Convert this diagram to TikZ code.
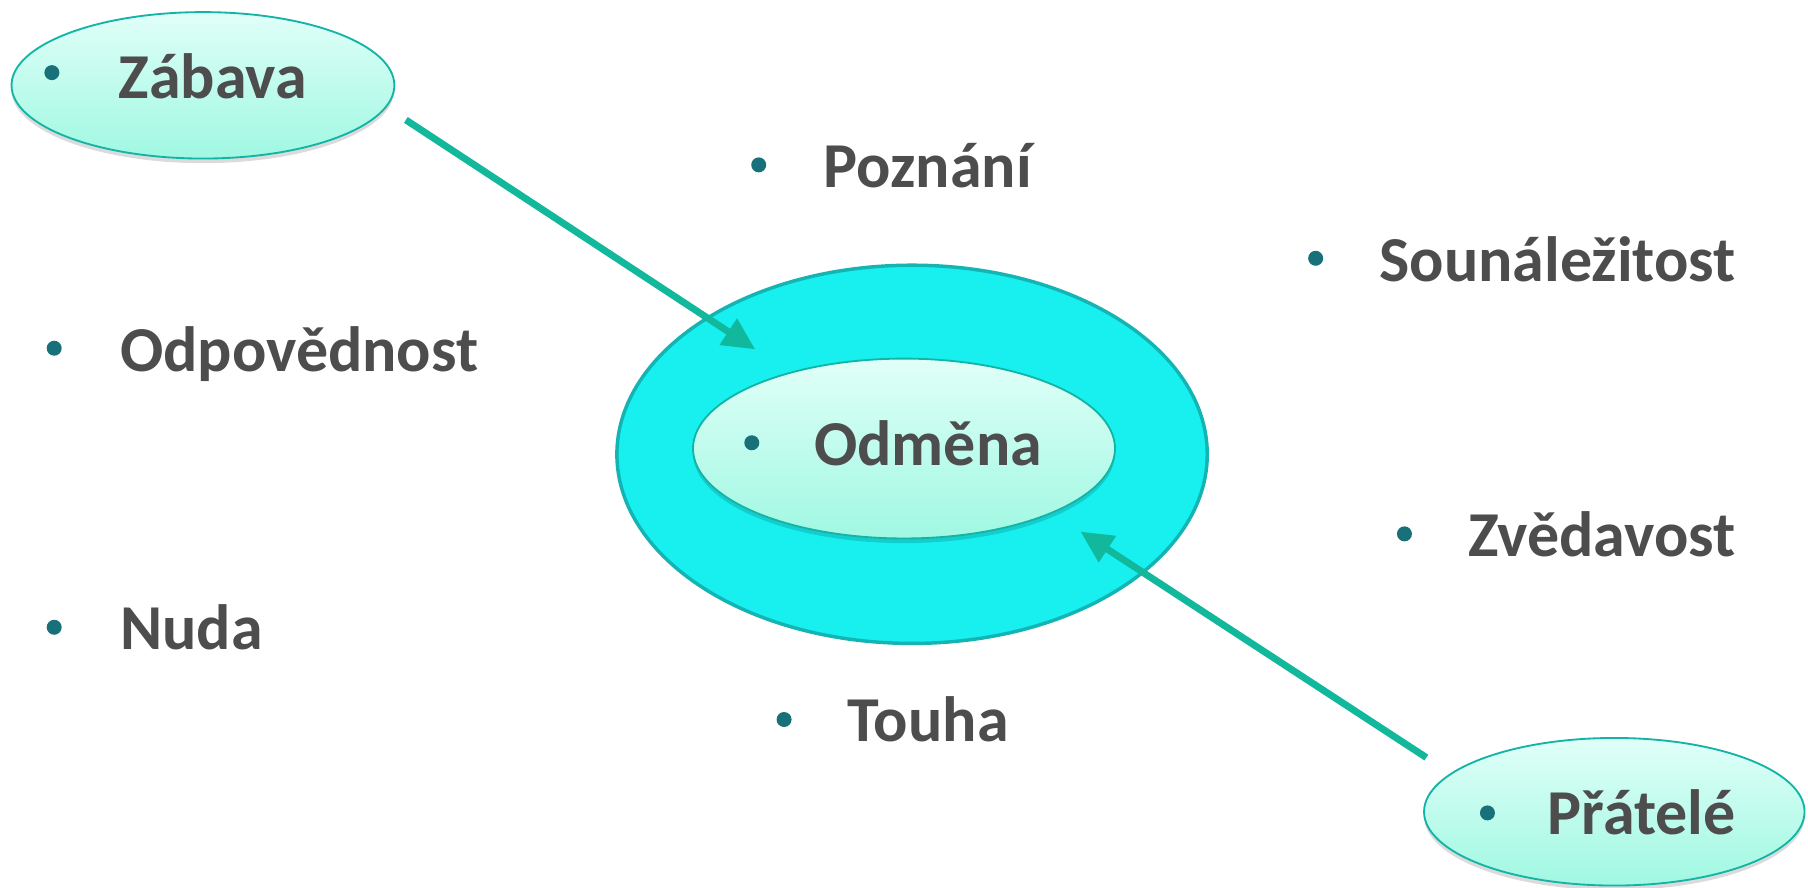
\documentclass[tikz,border=0pt]{standalone}
\usepackage{fontspec}
\setmainfont{Carlito}
\usetikzlibrary{arrows.meta,shadows,shapes.geometric}
\definecolor{txt}{HTML}{4D4D4D}
\definecolor{bul}{HTML}{17707A}
\definecolor{edgec}{HTML}{12B5A5}
\definecolor{arr}{HTML}{12B89C}
\definecolor{cyanf}{HTML}{18F0F0}
\definecolor{cyane}{HTML}{14B4B4}
\definecolor{gtop}{HTML}{E0FFF8}
\definecolor{gbot}{HTML}{A0F8E2}
\begin{document}
\begin{tikzpicture}[x=1pt,y=-1pt,
  bubble/.style={ellipse, draw=edgec, line width=1.6pt, inner sep=0pt,
    top color=gtop, bottom color=gbot,
    drop shadow={shadow xshift=0pt, shadow yshift=-4pt, opacity=0.14, fill=black}},
  outerbub/.style={ellipse, draw=cyane, line width=3pt, fill=cyanf, inner sep=0pt},
  word/.style={anchor=base west, font=\fontsize{55.5}{64}\selectfont\bfseries, text=txt, inner sep=0pt},
  dot/.style={circle, fill=bul, minimum size=13pt, inner sep=0pt},
  conn/.style={draw=arr, line width=6pt, -{Triangle[length=28pt,width=26pt]}}]
\useasboundingbox[fill=white] (0,0) rectangle (1568,770);
% ellipses
\node[outerbub, minimum width=512pt, minimum height=328pt] (outer) at (791,394) {};
\node[bubble, minimum width=366pt, minimum height=156pt] (inner) at (784,389) {};
\node[bubble, minimum width=332pt, minimum height=127pt] (zab) at (176,74) {};
\node[bubble, minimum width=330pt, minimum height=128pt] (prat) at (1400,704) {};
% arrows
\coordinate (a1s) at (352,104);
\coordinate (a1e) at (655,303);
\coordinate (a2s) at (1237,657);
\coordinate (a2e) at (937,461);
\draw[conn] (a1s) -- (a1e);
\draw[conn] (a2s) -- (a2e);
% bullets and words
\node[dot] (d1) at (45,63) {};    \node[word] (t1) at (103,85) {Zábava};
\node[dot] (d2) at (658,143) {};  \node[word] (t2) at (714,163) {Poznání};
\node[dot] (d3) at (1141,224) {}; \node[word] (t3) at (1196,244) {Sounáležitost};
\node[dot] (d4) at (47,302) {};   \node[word] (t4) at (104,322) {Odpovědnost};
\node[dot] (d5) at (652,384) {};  \node[word] (t5) at (706,404) {Odměna};
\node[dot] (d6) at (1218,463) {}; \node[word] (t6) at (1273,483) {Zvědavost};
\node[dot] (d7) at (47,544) {};   \node[word] (t7) at (104,563) {Nuda};
\node[dot] (d8) at (680,624) {};  \node[word] (t8) at (735,643) {Touha};
\node[dot] (d9) at (1290,705) {}; \node[word] (t9) at (1342,724) {Přátelé};
\end{tikzpicture}
\end{document}
